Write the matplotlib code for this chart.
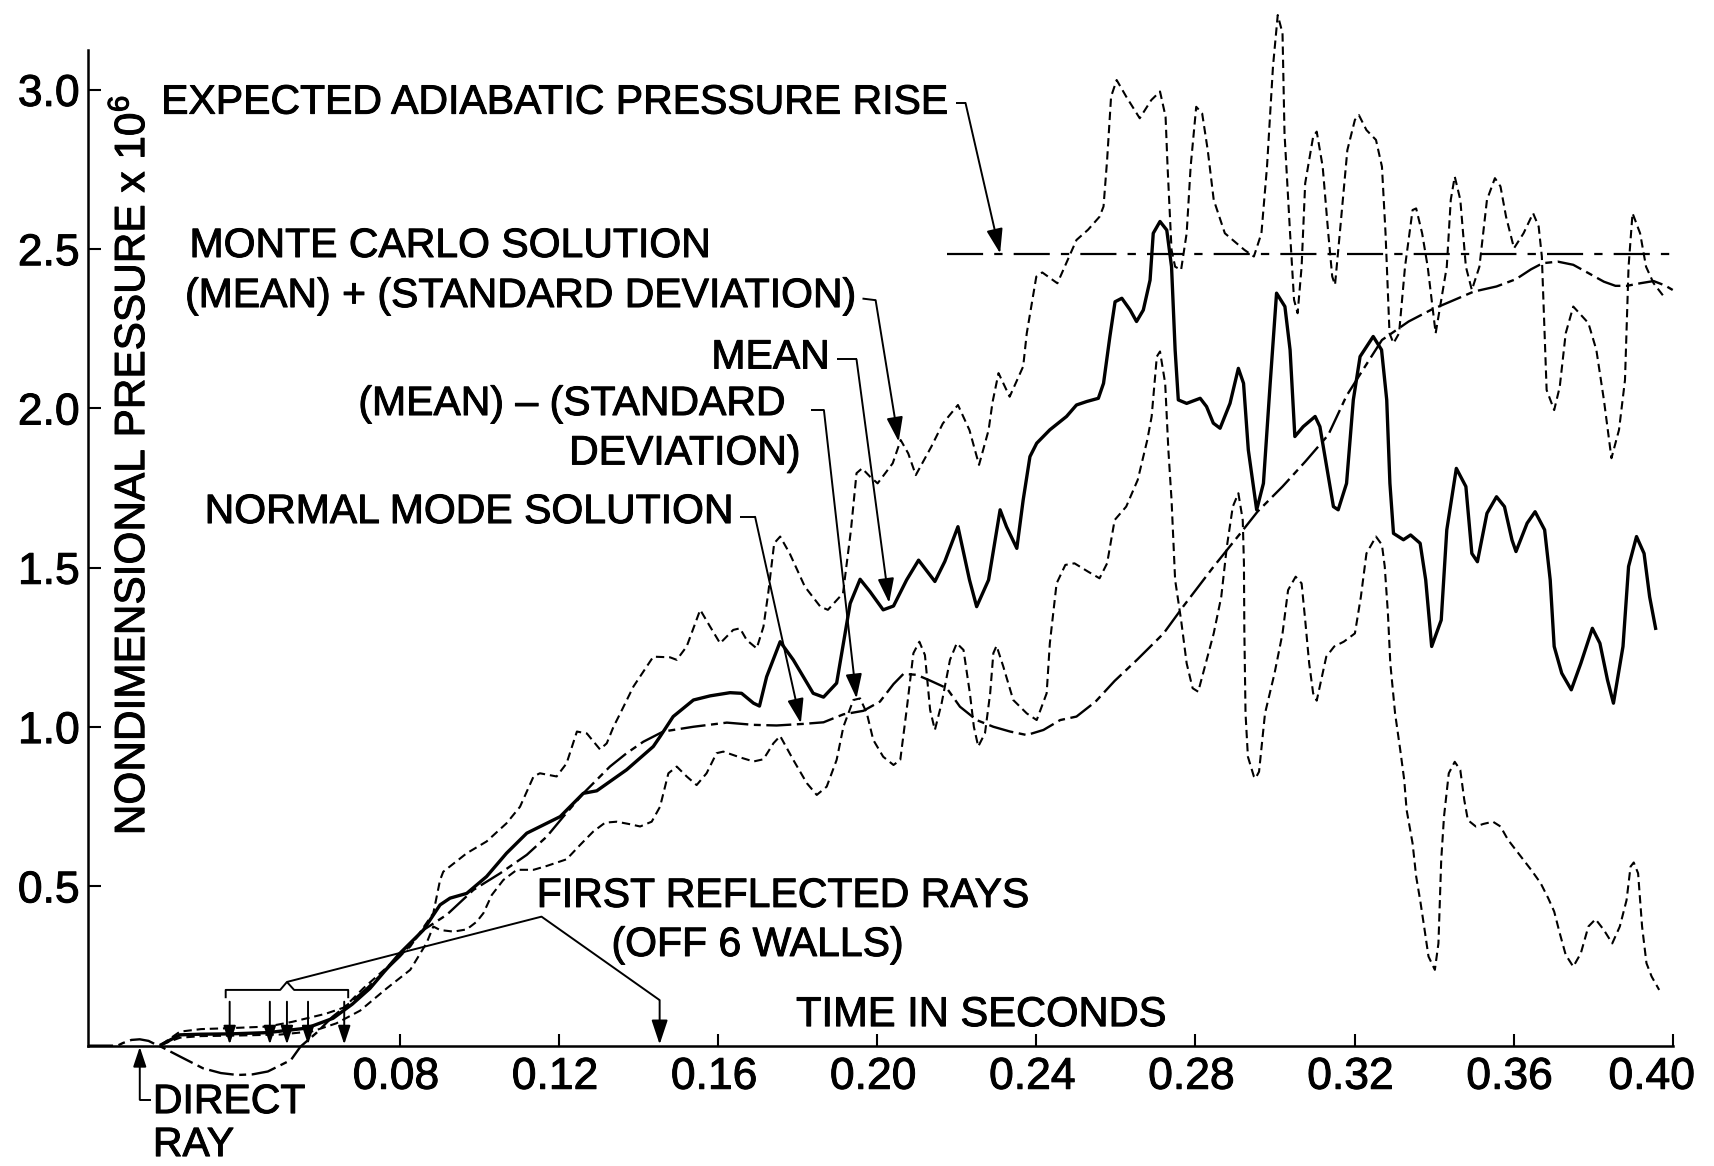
import matplotlib
matplotlib.use("Agg")
import matplotlib.pyplot as plt
import matplotlib.transforms as mtransforms
import matplotlib.patheffects as pe

plt.rcParams['font.family'] = ['Liberation Sans', 'DejaVu Sans']
plt.rcParams['mathtext.fontset'] = 'custom'
plt.rcParams['mathtext.rm'] = 'Liberation Sans'
plt.rcParams['mathtext.default'] = 'regular'
plt.rcParams['lines.scale_dashes'] = False

# --- data (time in s, pressure x 1e6) ---
meanT = [0.0200, 0.0247, 0.0300, 0.0372, 0.0468, 0.0565, 0.0632, 0.0680, 0.0725, 0.0800,
         0.0859, 0.0901, 0.0926, 0.0968, 0.1018, 0.1068, 0.1119, 0.1169, 0.1203, 0.1261,
         0.1295, 0.1370, 0.1437, 0.1454, 0.1487, 0.1538, 0.1580, 0.1630, 0.1659, 0.1689,
         0.1704, 0.1722, 0.1756, 0.1789, 0.1839, 0.1865, 0.1898, 0.1915, 0.1932, 0.1957,
         0.1982, 0.2015, 0.2041, 0.2074, 0.2104, 0.2145, 0.2170, 0.2203, 0.2232, 0.2250,
         0.2280, 0.2309, 0.2325, 0.2351, 0.2367, 0.2384, 0.2401, 0.2434, 0.2476, 0.2501,
         0.2527, 0.2556, 0.2569, 0.2585, 0.2598, 0.2615, 0.2636, 0.2652, 0.2669, 0.2686,
         0.2694, 0.2711, 0.2728, 0.2740, 0.2749, 0.2757, 0.2778, 0.2812, 0.2828, 0.2845,
         0.2862, 0.2887, 0.2908, 0.2921, 0.2933, 0.2954, 0.2971, 0.2988, 0.3004, 0.3025,
         0.3038, 0.3050, 0.3071, 0.3101, 0.3113, 0.3130, 0.3147, 0.3159, 0.3180, 0.3197,
         0.3214, 0.3247, 0.3268, 0.3281, 0.3289, 0.3298, 0.3323, 0.3341, 0.3365, 0.3379,
         0.3394, 0.3418, 0.3432, 0.3456, 0.3480, 0.3495, 0.3509, 0.3533, 0.3557, 0.3577,
         0.3596, 0.3606, 0.3634, 0.3654, 0.3678, 0.3692, 0.3702, 0.3721, 0.3745, 0.3769,
         0.3798, 0.3817, 0.3836, 0.3851, 0.3875, 0.3889, 0.3909, 0.3928, 0.3942, 0.3957]
meanP = [0.003, 0.034, 0.036, 0.037, 0.041, 0.055, 0.086, 0.130, 0.180, 0.290,
         0.363, 0.442, 0.463, 0.478, 0.531, 0.604, 0.667, 0.698, 0.719, 0.792,
         0.800, 0.866, 0.939, 0.970, 1.033, 1.085, 1.098, 1.108, 1.106, 1.075,
         1.066, 1.158, 1.268, 1.211, 1.106, 1.094, 1.138, 1.263, 1.388, 1.464,
         1.425, 1.368, 1.380, 1.462, 1.524, 1.457, 1.520, 1.629, 1.462, 1.378,
         1.462, 1.682, 1.629, 1.561, 1.713, 1.849, 1.891, 1.933, 1.975, 2.011,
         2.022, 2.032, 2.079, 2.226, 2.335, 2.346, 2.309, 2.273, 2.309, 2.403,
         2.550, 2.587, 2.560, 2.445, 2.184, 2.027, 2.016, 2.032, 2.006, 1.954,
         1.938, 2.016, 2.126, 2.079, 1.870, 1.682, 1.765, 2.079, 2.362, 2.320,
         2.184, 1.912, 1.943, 1.975, 1.943, 1.818, 1.692, 1.682, 1.765, 2.027,
         2.163, 2.226, 2.184, 2.027, 1.765, 1.608, 1.588, 1.603, 1.577, 1.462,
         1.253, 1.336, 1.619, 1.812, 1.755, 1.545, 1.519, 1.671, 1.723, 1.692,
         1.587, 1.551, 1.640, 1.676, 1.619, 1.462, 1.253, 1.169, 1.117, 1.200,
         1.310, 1.263, 1.148, 1.075, 1.253, 1.504, 1.598, 1.545, 1.409, 1.310]

upperT = [0.0200, 0.0247, 0.0300, 0.0372, 0.0468, 0.0530, 0.0613, 0.0660, 0.0708, 0.0826,
          0.0884, 0.0901, 0.0909, 0.0968, 0.1018, 0.1068, 0.1102, 0.1136, 0.1152, 0.1194,
          0.1219, 0.1245, 0.1270, 0.1303, 0.1320, 0.1337, 0.1354, 0.1387, 0.1437, 0.1479,
          0.1496, 0.1521, 0.1555, 0.1580, 0.1605, 0.1638, 0.1655, 0.1672, 0.1697, 0.1714,
          0.1726, 0.1741, 0.1756, 0.1780, 0.1818, 0.1857, 0.1876, 0.1914, 0.1934, 0.1948,
          0.1962, 0.1982, 0.2001, 0.2039, 0.2059, 0.2078, 0.2097, 0.2136, 0.2165, 0.2203,
          0.2232, 0.2256, 0.2280, 0.2290, 0.2305, 0.2333, 0.2367, 0.2376, 0.2400, 0.2415,
          0.2453, 0.2501, 0.2530, 0.2559, 0.2569, 0.2578, 0.2588, 0.2602, 0.2626, 0.2660,
          0.2689, 0.2711, 0.2725, 0.2730, 0.2740, 0.2749, 0.2764, 0.2778, 0.2788, 0.2802,
          0.2817, 0.2831, 0.2846, 0.2874, 0.2923, 0.2947, 0.2966, 0.2980, 0.2995, 0.3007,
          0.3019, 0.3024, 0.3038, 0.3048, 0.3057, 0.3067, 0.3076, 0.3096, 0.3105, 0.3120,
          0.3134, 0.3144, 0.3151, 0.3163, 0.3182, 0.3201, 0.3211, 0.3230, 0.3254, 0.3269,
          0.3278, 0.3288, 0.3298, 0.3312, 0.3327, 0.3346, 0.3355, 0.3370, 0.3384, 0.3404,
          0.3432, 0.3442, 0.3452, 0.3466, 0.3480, 0.3495, 0.3514, 0.3533, 0.3553, 0.3567,
          0.3581, 0.3601, 0.3625, 0.3649, 0.3663, 0.3671, 0.3678, 0.3683, 0.3702, 0.3716,
          0.3731, 0.3750, 0.3788, 0.3808, 0.3827, 0.3846, 0.3865, 0.3880, 0.3889, 0.3899,
          0.3918, 0.3933, 0.3952, 0.3981]
upperP = [0.003, 0.044, 0.052, 0.055, 0.060, 0.075, 0.100, 0.120, 0.180, 0.311,
          0.416, 0.520, 0.546, 0.604, 0.641, 0.698, 0.750, 0.845, 0.855, 0.845,
          0.886, 0.986, 0.980, 0.930, 0.949, 1.001, 1.043, 1.127, 1.221, 1.219,
          1.211, 1.253, 1.368, 1.315, 1.263, 1.305, 1.310, 1.273, 1.247, 1.315,
          1.420, 1.577, 1.598, 1.545, 1.441, 1.378, 1.368, 1.420, 1.619, 1.797,
          1.812, 1.786, 1.765, 1.828, 1.901, 1.859, 1.791, 1.880, 1.953, 2.011,
          1.932, 1.823, 1.932, 2.020, 2.111, 2.037, 2.132, 2.236, 2.414, 2.427,
          2.393, 2.529, 2.561, 2.602, 2.634, 2.780, 2.979, 3.031, 2.979, 2.911,
          2.968, 2.995, 2.916, 2.759, 2.498, 2.445, 2.435, 2.550, 2.759, 2.947,
          2.926, 2.811, 2.655, 2.550, 2.498, 2.477, 2.550, 2.759, 3.073, 3.235,
          3.178, 2.864, 2.550, 2.341, 2.299, 2.445, 2.707, 2.853, 2.869, 2.759,
          2.550, 2.414, 2.388, 2.550, 2.811, 2.906, 2.921, 2.874, 2.843, 2.759,
          2.550, 2.236, 2.205, 2.236, 2.445, 2.623, 2.628, 2.550, 2.445, 2.236,
          2.445, 2.655, 2.728, 2.655, 2.445, 2.372, 2.445, 2.655, 2.723, 2.697,
          2.602, 2.503, 2.550, 2.613, 2.571, 2.477, 2.236, 2.058, 1.995, 2.068,
          2.236, 2.320, 2.268, 2.184, 2.027, 1.844, 1.933, 2.089, 2.445, 2.613,
          2.550, 2.445, 2.393, 2.346]

lowerT = [0.0200, 0.0247, 0.0300, 0.0400, 0.0500, 0.0580, 0.0640, 0.0700, 0.0767, 0.0826,
          0.0867, 0.0884, 0.0901, 0.0935, 0.0968, 0.0993, 0.1010, 0.1031, 0.1060, 0.1094,
          0.1136, 0.1169, 0.1219, 0.1253, 0.1286, 0.1316, 0.1345, 0.1379, 0.1404, 0.1433,
          0.1454, 0.1475, 0.1496, 0.1521, 0.1546, 0.1571, 0.1596, 0.1613, 0.1655, 0.1689,
          0.1714, 0.1739, 0.1756, 0.1789, 0.1823, 0.1848, 0.1873, 0.1898, 0.1915, 0.1940,
          0.1957, 0.1974, 0.1990, 0.2015, 0.2041, 0.2058, 0.2074, 0.2091, 0.2106, 0.2120,
          0.2133, 0.2145, 0.2162, 0.2183, 0.2200, 0.2217, 0.2233, 0.2243, 0.2254, 0.2271,
          0.2284, 0.2292, 0.2300, 0.2317, 0.2342, 0.2376, 0.2401, 0.2426, 0.2434, 0.2451,
          0.2473, 0.2496, 0.2530, 0.2559, 0.2578, 0.2597, 0.2626, 0.2655, 0.2679, 0.2690,
          0.2703, 0.2711, 0.2724, 0.2732, 0.2740, 0.2749, 0.2764, 0.2778, 0.2793, 0.2807,
          0.2826, 0.2846, 0.2865, 0.2879, 0.2894, 0.2908, 0.2919, 0.2922, 0.2923, 0.2926,
          0.2932, 0.2947, 0.2951, 0.2960, 0.2975, 0.2999, 0.3019, 0.3033, 0.3052, 0.3067,
          0.3076, 0.3086, 0.3096, 0.3105, 0.3120, 0.3129, 0.3149, 0.3173, 0.3201, 0.3216,
          0.3230, 0.3254, 0.3269, 0.3276, 0.3284, 0.3290, 0.3302, 0.3315, 0.3325, 0.3331,
          0.3346, 0.3355, 0.3365, 0.3375, 0.3386, 0.3402, 0.3411, 0.3418, 0.3425, 0.3437,
          0.3452, 0.3466, 0.3476, 0.3485, 0.3505, 0.3524, 0.3548, 0.3567, 0.3586, 0.3615,
          0.3644, 0.3668, 0.3687, 0.3702, 0.3716, 0.3731, 0.3750, 0.3769, 0.3788, 0.3806,
          0.3827, 0.3848, 0.3867, 0.3884, 0.3894, 0.3902, 0.3913, 0.3923, 0.3934, 0.3947,
          0.3966]
lowerP = [0.003, 0.025, 0.030, 0.032, 0.035, 0.045, 0.070, 0.110, 0.180, 0.238,
          0.322, 0.374, 0.363, 0.358, 0.365, 0.389, 0.416, 0.473, 0.520, 0.552,
          0.552, 0.564, 0.585, 0.630, 0.672, 0.700, 0.703, 0.695, 0.688, 0.703,
          0.750, 0.855, 0.876, 0.845, 0.818, 0.855, 0.918, 0.923, 0.905, 0.892,
          0.899, 0.949, 0.972, 0.897, 0.824, 0.787, 0.813, 0.897, 1.001, 1.085,
          1.090, 1.043, 0.960, 0.907, 0.881, 0.897, 1.054, 1.232, 1.268, 1.226,
          1.054, 0.991, 1.075, 1.211, 1.263, 1.242, 1.106, 1.001, 0.939, 0.981,
          1.106, 1.232, 1.255, 1.190, 1.085, 1.043, 1.022, 1.106, 1.263, 1.451,
          1.509, 1.514, 1.488, 1.467, 1.514, 1.650, 1.692, 1.776, 1.901, 1.975,
          2.163, 2.179, 2.079, 1.870, 1.713, 1.462, 1.336, 1.200, 1.122, 1.111,
          1.200, 1.294, 1.409, 1.566, 1.692, 1.734, 1.650, 1.514, 1.305, 1.043,
          0.907, 0.845, 0.839, 0.860, 1.043, 1.169, 1.294, 1.430, 1.472, 1.451,
          1.336, 1.200, 1.106, 1.083, 1.169, 1.221, 1.253, 1.268, 1.294, 1.409,
          1.545, 1.598, 1.572, 1.504, 1.357, 1.200, 1.043, 0.928, 0.834, 0.740,
          0.635, 0.531, 0.457, 0.374, 0.280, 0.238, 0.321, 0.583, 0.719, 0.855,
          0.891, 0.865, 0.771, 0.708, 0.688, 0.696, 0.703, 0.688, 0.646, 0.599,
          0.552, 0.510, 0.463, 0.421, 0.353, 0.285, 0.248, 0.290, 0.374, 0.397,
          0.363, 0.321, 0.374, 0.457, 0.562, 0.575, 0.541, 0.374, 0.259, 0.217,
          0.175]

normalT = [0.0016, 0.0090, 0.0103, 0.0125, 0.0146, 0.0168, 0.0189, 0.0199, 0.0247, 0.0305,
           0.0350, 0.0391, 0.0430, 0.0468, 0.0526, 0.0550, 0.0590, 0.0630, 0.0680, 0.0717,
           0.0800, 0.0859, 0.0918, 0.0985, 0.1052, 0.1119, 0.1169, 0.1211, 0.1261, 0.1328,
           0.1370, 0.1412, 0.1462, 0.1538, 0.1622, 0.1689, 0.1747, 0.1814, 0.1865, 0.1915,
           0.1965, 0.2007, 0.2041, 0.2066, 0.2099, 0.2133, 0.2175, 0.2208, 0.2250, 0.2292,
           0.2334, 0.2376, 0.2418, 0.2460, 0.2501, 0.2549, 0.2597, 0.2653, 0.2720, 0.2769,
           0.2846, 0.2913, 0.2956, 0.3019, 0.3076, 0.3134, 0.3180, 0.3221, 0.3269, 0.3336,
           0.3393, 0.3442, 0.3500, 0.3557, 0.3606, 0.3644, 0.3673, 0.3711, 0.3750, 0.3788,
           0.3827, 0.3856, 0.3885, 0.3918, 0.3952, 0.3981, 0.4000]
normalP = [0.000, 0.000, 0.008, 0.018, 0.020, 0.015, 0.002, -0.003, -0.034, -0.071,
           -0.086, -0.092, -0.090, -0.081, -0.045, -0.003, 0.040, 0.090, 0.140, 0.180,
           0.280, 0.363, 0.411, 0.489, 0.541, 0.599, 0.656, 0.719, 0.792, 0.876,
           0.918, 0.954, 0.986, 1.001, 1.014, 1.007, 1.005, 1.010, 1.015, 1.040,
           1.051, 1.080, 1.135, 1.167, 1.164, 1.146, 1.122, 1.064, 1.022, 1.001,
           0.986, 0.975, 0.991, 1.022, 1.033, 1.080, 1.145, 1.211, 1.294, 1.378,
           1.504, 1.608, 1.676, 1.755, 1.833, 1.917, 2.040, 2.121, 2.215, 2.273,
           2.310, 2.336, 2.367, 2.383, 2.406, 2.437, 2.456, 2.461, 2.451, 2.425,
           2.398, 2.385, 2.385, 2.393, 2.400, 2.386, 2.372]

adiabaticT = [0.2175, 0.4000]
adiabaticP = [2.485, 2.485]

directRayTime = 0.0146
reflectTimes = [0.0372, 0.0473, 0.0516, 0.0569, 0.0660, 0.1453]

xTicks = [0.08, 0.12, 0.16, 0.20, 0.24, 0.28, 0.32, 0.36, 0.40]
xTickLabels = ['0.08', '0.12', '0.16', '0.20', '0.24', '0.28', '0.32', '0.36', '0.40']
yTicks = [0.5, 1.0, 1.5, 2.0, 2.5, 3.0]
yTickLabels = ['0.5', '1.0', '1.5', '2.0', '2.5', '3.0']

# slightly heavier lettering, like the inked original
ink = [pe.withStroke(linewidth=0.7, foreground='black')]

fig = plt.figure(figsize=(17.14, 11.66), dpi=100)
ax = fig.add_axes([0.04767, 0.1032, 0.92824, 0.8962])
ax.set_xlim(0, 0.4)
ax.set_ylim(0, 3.28)

ax.plot(meanT, meanP, color='black', lw=2.4, solid_joinstyle='round', clip_on=False)
ax.plot(upperT, upperP, color='black', lw=1.5, linestyle=(0, (6, 3.5)), clip_on=False)
ax.plot(lowerT, lowerP, color='black', lw=1.5, linestyle=(0, (6, 3.5)), clip_on=False)
ax.plot(normalT, normalP, color='black', lw=1.7, linestyle=(0, (18, 4, 5, 4)), clip_on=False)
ax.plot(adiabaticT, adiabaticP, color='black', lw=1.6, linestyle=(0, (26, 8, 6, 8)))

# axes like the hand drawn original
for side in ['top', 'right']:
    ax.spines[side].set_visible(False)
ax.spines['left'].set_position(('data', 0.0016))
ax.spines['left'].set_bounds(0, 3.125)
ax.spines['bottom'].set_bounds(0.0016, 0.4)
ax.spines['left'].set_linewidth(1.8)
ax.spines['bottom'].set_linewidth(1.8)
ax.set_xticks(xTicks)
ax.set_xticklabels(xTickLabels)
ax.set_yticks(yTicks)
ax.set_yticklabels(yTickLabels)
ax.tick_params(direction='in', length=9, width=1.5, labelsize=32)
ax.tick_params(axis='x', pad=8)
ax.tick_params(axis='y', pad=6)

# tick labels sit a little left of their ticks, the last one well inside
xLabels = ax.get_xticklabels()
for i, lab in enumerate(xLabels):
    dx = -21 if i == len(xLabels) - 1 else -4
    lab.set_transform(lab.get_transform() + mtransforms.ScaledTranslation(dx / 100, 0, fig.dpi_scale_trans))
    lab.set_path_effects(ink)
for lab in ax.get_yticklabels():
    lab.set_path_effects(ink)

fig.text(133 / 1714, 1 - 465 / 1166, 'NONDIMENSIONAL PRESSURE x 10$^{6}$',
         rotation=90, ha='center', va='center', fontsize=30.5, path_effects=ink)
ax.text(0.1796, 0.096, 'TIME IN SECONDS', ha='left', va='center', fontsize=30, path_effects=ink)


def leader(points):
    ax.plot([p[0] for p in points], [p[1] for p in points], color='black', lw=1.4,
            clip_on=False, solid_capstyle='butt')


def arrow(tip, tail, size=20):
    ax.annotate('', xy=tip, xytext=tail, annotation_clip=False,
                arrowprops=dict(arrowstyle='-|>,head_length=0.75,head_width=0.25',
                                mutation_scale=size, lw=1.4, color='black',
                                shrinkA=0, shrinkB=0))


def note(t, p, s, ha):
    ax.text(t, p, s, ha=ha, va='center', fontsize=29.5, path_effects=ink)


note(0.2179, 2.960, 'EXPECTED ADIABATIC PRESSURE RISE', 'right')
leader([(0.2198, 2.959), (0.2222, 2.959)])
arrow((0.2309, 2.487), (0.2222, 2.959))

note(0.0271, 2.510, 'MONTE CARLO SOLUTION', 'left')
note(0.1948, 2.353, '(MEAN) + (STANDARD DEVIATION)', 'right')
leader([(0.1963, 2.345), (0.1996, 2.340)])
arrow((0.2054, 1.896), (0.1996, 2.340))

note(0.1881, 2.160, 'MEAN', 'right')
leader([(0.1900, 2.154), (0.1948, 2.154)])
arrow((0.2030, 1.390), (0.1948, 2.154))

note(0.1770, 2.014, '(MEAN) – (STANDARD', 'right')
note(0.1808, 1.859, 'DEVIATION)', 'right')
leader([(0.1833, 1.995), (0.1866, 1.995)])
arrow((0.1948, 1.090), (0.1866, 1.995))

note(0.1640, 1.675, 'NORMAL MODE SOLUTION', 'right')
leader([(0.1655, 1.660), (0.1693, 1.660)])
arrow((0.1808, 1.012), (0.1693, 1.660))

# first reflected rays: brace over five arrivals, one more arrow further on
note(0.1144, 0.470, 'FIRST REFLECTED RAYS', 'left')
note(0.1332, 0.316, '(OFF 6 WALLS)', 'left')
leader([(0.0516, 0.200), (0.1156, 0.405), (0.1453, 0.143)])
leader([(0.0362, 0.149), (0.0362, 0.175), (0.0499, 0.175), (0.0516, 0.200),
        (0.0534, 0.175), (0.0670, 0.175), (0.0670, 0.149)])
for t in reflectTimes[:-1]:
    arrow((t, 0.004), (t, 0.138), size=15)
arrow((reflectTimes[-1], 0.004), (reflectTimes[-1], 0.143))

# direct ray
arrow((directRayTime, -0.004), (directRayTime, -0.170), size=16)
leader([(directRayTime, -0.170), (0.0175, -0.170)])
note(0.0179, -0.177, 'DIRECT', 'left')
note(0.0179, -0.312, 'RAY', 'left')

fig.savefig('out.png', dpi=100, facecolor='white')
